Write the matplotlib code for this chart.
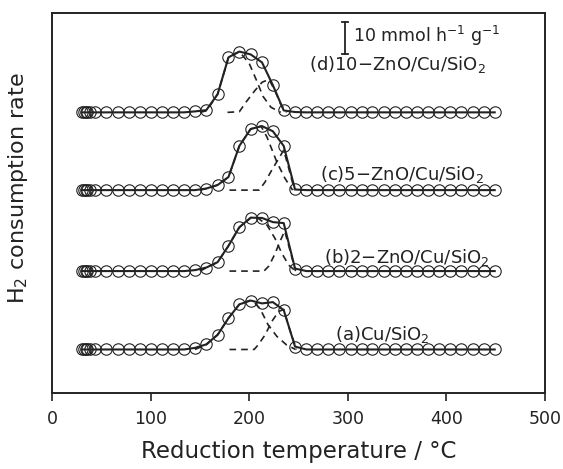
import matplotlib
matplotlib.use("Agg")
import matplotlib.pyplot as plt
import numpy as np

plt.rcParams['font.family'] = ['DejaVu Sans']

# Temperatures of the measured points (deg C)
temps = [30, 32, 34, 36, 39, 44, 55, 66.5, 78, 89, 100, 111.5, 123, 134, 145,
         156.5, 168, 179, 190, 201.5, 213, 224, 235, 246.5, 258, 269, 280, 291.5,
         303, 314, 325, 336.5, 348, 359, 370, 381.5, 393, 404, 415, 426.5, 438, 449]

# H2 consumption rate above each baseline (mmol h-1 g-1)
z = [0.0] * 14
rate_a = z + [0.5, 1.6, 4.6, 9.8, 14.1, 15.3, 14.4, 14.8, 12.3, 0.9] + [0.0] * 18
rate_b = z + [0.3, 1.1, 2.8, 7.9, 13.7, 16.7, 16.6, 15.3, 15.0, 0.8] + [0.0] * 18
rate_c = z + [0.0, 0.5, 1.6, 4.1, 13.8, 19.1, 20.0, 18.4, 13.8, 0.2] + [0.0] * 18
rate_d = z + [0.3, 0.7, 5.7, 17.2, 19.0, 18.1, 15.6, 8.5, 0.6, 0.1] + [0.0] * 18

# Deconvoluted components (dashed)
a1_x = [145, 157, 168, 179, 190, 200, 205, 211, 219, 228, 238, 247]
a1_y = [0, 1.6, 4.6, 9.8, 14.1, 15.3, 14.7, 12.8, 7.8, 4.1, 1.4, 0]
a2_x = [180, 205, 209, 216, 223, 230, 235, 241, 248]
a2_y = [0, 0, 1.4, 4.5, 8.8, 11.9, 12.5, 6.3, 0]

b1_x = [150, 157, 168, 179, 190, 202, 210, 218, 226, 233, 240, 247]
b1_y = [0, 1.1, 2.8, 7.9, 13.7, 16.7, 16.3, 14.4, 10.3, 5.6, 1.9, 0]
b2_x = [180, 215, 220, 226, 231, 236, 241, 247]
b2_y = [0, 0, 1.6, 5.3, 9.1, 12.5, 6.9, 0]

c1_x = [150, 157, 168, 179, 190, 201.5, 212, 218, 228, 236, 244]
c1_y = [0, 0.5, 1.6, 4.1, 13.8, 19.1, 20.0, 16.6, 8.8, 3.8, 0]
c2_x = [180, 210, 216, 223, 229, 235, 240, 246]
c2_y = [0, 0, 2.5, 6.3, 9.4, 12.5, 6.9, 0]

d1_x = [150, 157, 168, 179, 190, 200, 207, 214, 222, 232]
d1_y = [0, 0.5, 5.7, 17.2, 19.0, 15.3, 10.3, 5.0, 1.6, 0]
d2_x = [178, 190, 197, 206, 213, 220, 226, 232, 238]
d2_y = [0, 0.2, 3.3, 6.9, 9.4, 10.3, 6.9, 2.5, 0]

labels = ["(a)Cu/SiO$_2$", "(b)2\u2212ZnO/Cu/SiO$_2$",
          "(c)5\u2212ZnO/Cu/SiO$_2$", "(d)10\u2212ZnO/Cu/SiO$_2$"]

offsets = [13.6, 38.1, 63.4, 87.7]
label_pos = [(287.5, 18.4), (276.0, 42.2), (272.0, 68.4), (261.0, 102.8)]

fig = plt.figure(figsize=(5.63, 4.69), dpi=100)
ax = fig.add_axes([52 / 563, 76 / 469, 493 / 563, 380 / 469])

col = '#222222'
series = [
    (rate_a, a1_x, a1_y, a2_x, a2_y),
    (rate_b, b1_x, b1_y, b2_x, b2_y),
    (rate_c, c1_x, c1_y, c2_x, c2_y),
    (rate_d, d1_x, d1_y, d2_x, d2_y),
]
for (rate, x1, y1, x2, y2), off, lab, (lx, ly) in zip(series, offsets, labels, label_pos):
    ax.plot(x1, np.array(y1) + off, ls=(0, (4, 3)), color=col, lw=1.2, zorder=2)
    ax.plot(x2, np.array(y2) + off, ls=(0, (4, 3)), color=col, lw=1.2, zorder=2)
    ax.plot(temps, np.array(rate) + off, '-', color=col, lw=1.5, zorder=3)
    ax.plot(temps, np.array(rate) + off, 'o', mfc='none', mec=col, mew=0.8,
            ms=8.2, zorder=4)
    ax.text(lx, ly, lab, fontsize=13, ha='left', va='center', color=col)

# scale bar 10 mmol h-1 g-1
ax.plot([297, 297], [105.9, 115.9], color=col, lw=1.3)
ax.plot([294, 300], [115.9, 115.9], color=col, lw=1.3)
ax.plot([294, 300], [105.9, 105.9], color=col, lw=1.3)
ax.text(305, 111.6, "10 mmol h$^{-1}$ g$^{-1}$", fontsize=12.5, ha='left',
        va='center', color=col)

ax.set_xlim(0, 500)
ax.set_ylim(0, 118.75)
ax.set_xticks([0, 100, 200, 300, 400, 500])
ax.set_yticks([])
ax.tick_params(axis='x', direction='out', length=6, width=1.2, labelsize=12.5,
               pad=6, colors=col)
for s in ax.spines.values():
    s.set_linewidth(1.4)
    s.set_color(col)

ax.set_xlabel("Reduction temperature / \u00b0C", fontsize=16.5, labelpad=9,
              color=col)
fig.text(18 / 563, 1 - 188 / 469, "H$_2$ consumption rate", rotation=90,
         fontsize=16, ha='center', va='center', color=col)

fig.savefig("out.png", dpi=100)
